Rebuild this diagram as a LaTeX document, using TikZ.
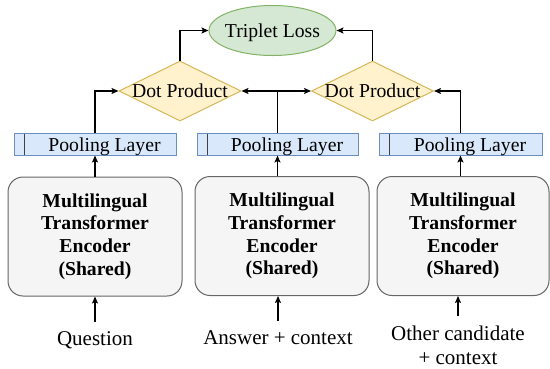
\documentclass[tikz,border=0pt]{standalone}
\usepackage{fontspec}
\setmainfont{Liberation Serif}
\usetikzlibrary{shapes.geometric,arrows.meta}
\definecolor{lossfill}{HTML}{D5E8D4}
\definecolor{lossdraw}{HTML}{82B366}
\definecolor{dotfill}{HTML}{FFF2CC}
\definecolor{dotdraw}{HTML}{D6B656}
\definecolor{poolfill}{HTML}{DAE8FC}
\definecolor{pooldraw}{HTML}{6C8EBF}
\definecolor{encfill}{HTML}{F5F5F5}
\definecolor{encdraw}{HTML}{666666}
\newcommand\lblfont{\fontsize{19.7}{22.7}\selectfont}
\newcommand\infont{\fontsize{21}{24}\selectfont}
\begin{document}
\begin{tikzpicture}[x=1pt,y=-1pt,
  lossnode/.style={ellipse, draw=lossdraw, fill=lossfill, line width=1pt,
    minimum width=127pt, minimum height=50pt, inner sep=0pt,
    label={[font=\lblfont, yshift=-2pt]center:#1}},
  dotnode/.style={diamond, draw=dotdraw, fill=dotfill, line width=1pt,
    minimum width=122pt, minimum height=60pt, inner sep=0pt,
    label={[font=\lblfont]center:Dot Product}},
  poolnode/.style={rectangle, draw=pooldraw, fill=poolfill, line width=1pt,
    minimum width=#1, minimum height=22pt, inner sep=0pt,
    path picture={\draw[line width=1pt, black!75]
      ([xshift=10pt]path picture bounding box.north west) --
      ([xshift=10pt]path picture bounding box.south west);},
    label={[font=\lblfont, xshift=9.5pt, yshift=-3pt]center:Pooling Layer}},
  encnode/.style={rectangle, rounded corners=15pt, draw=encdraw, fill=encfill,
    line width=1pt, minimum width=#1, minimum height=119pt, inner sep=0pt,
    align=center, font=\lblfont\bfseries},
  innode/.style={font=\infont, inner xsep=0pt, inner ysep=10pt, anchor=north, align=center},
  arr/.style={-{Stealth[length=7pt,width=6pt,inset=1.5pt]}, line width=1.5pt}
]
\useasboundingbox (0,0) rectangle (550,368);

\node[lossnode=Triplet Loss] (loss) at (272.5,30.5) {};
\node[dotnode] (dotL) at (180,91) {};
\node[dotnode] (dotR) at (372.5,91) {};

\node[poolnode=162pt] (poolL) at (95,144) {};
\node[poolnode=161pt] (poolM) at (277.5,144) {};
\node[poolnode=163pt] (poolR) at (460.5,144) {};

\node[encnode=174pt] (encL) at (95,236.5) {Multilingual\\Transformer\\Encoder\\(Shared)};
\node[encnode=174pt] (encM) at (282,236) {Multilingual\\Transformer\\Encoder\\(Shared)};
\node[encnode=172pt] (encR) at (463,236) {Multilingual\\Transformer\\Encoder\\(Shared)};

\node[innode] (qin) at (95,321.5) {Question};
\node[innode] (ain) at (278,320.5) {Answer + context};
\node[innode] (oin) at (458,316) {Other candidate\\+ context};

\draw[arr] (qin.north) -- (qin.north |- encL.south);
\draw[arr] (ain.north) -- (ain.north |- encM.south);
\draw[arr] (oin.north) -- (oin.north |- encR.south);

\draw[arr] (encL.north -| poolL.south) -- (poolL.south);
\draw[arr] (encM.north -| poolM.south) -- (poolM.south);
\draw[arr] (encR.north -| poolR.south) -- (poolR.south);

\draw[arr] (poolL.north) |- (dotL.west);
\draw[arr] (poolM.north) |- (dotL.east);
\draw[arr] (poolM.north) |- (dotR.west);
\draw[arr] (poolR.north) |- (dotR.east);

\draw[arr] (dotL.north) |- (loss.west);
\draw[arr] (dotR.north) |- (loss.east);
\end{tikzpicture}
\end{document}
